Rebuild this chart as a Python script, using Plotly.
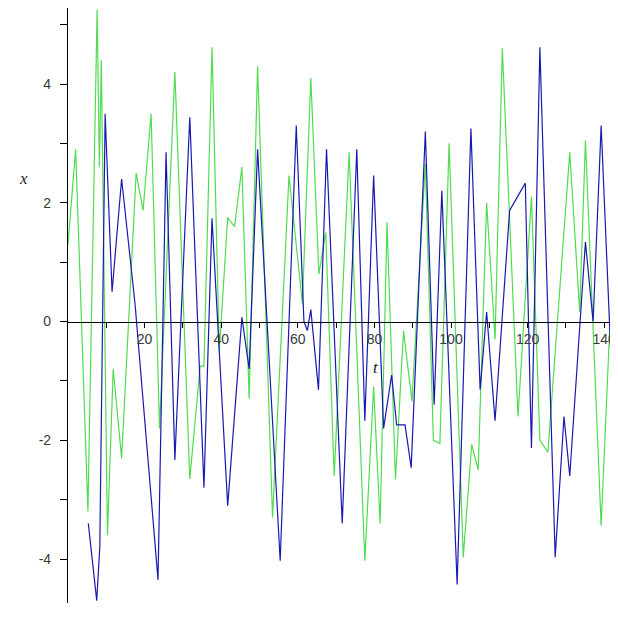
import plotly.graph_objects as go

# ---- data ----
green_t = [0, 2, 5.2, 7.6, 8.2, 8.7, 10.3, 11.8, 14, 17.8, 19.6, 21.7, 23.9, 27.9,
           31.8, 34.5, 35.5, 37.6, 39.5, 41.7, 43.5, 45.4, 47.3, 49.5, 53.4, 57.7,
           61.2, 63.4, 65.5, 67.3, 69.5, 73.4, 77.5, 79.8, 81.5, 83.3, 85.5, 87.6,
           89.8, 93.3, 95.4, 97.1, 99.5, 103.2, 105.4, 107.1, 109.3, 111.5, 113.4,
           117.5, 121, 123.2, 125.3, 131, 133.6, 135.1, 139.2, 143.6]
green_x = [1.3, 2.9, -3.2, 5.25, 2.6, 4.4, -3.6, -0.8, -2.3, 2.5, 1.87, 3.5, -1.8, 4.2,
           -2.65, -0.75, -0.75, 4.62, -0.5, 1.75, 1.6, 2.6, -1.3, 4.3, -3.3, 2.46,
           0.3, 4.1, 0.8, 1.5, -2.6, 2.85, -4.03, -1.1, -3.4, 1.67, -2.66, -0.16,
           -1.34, 2.66, -2.0, -2.05, 3.0, -3.97, -2.07, -2.5, 2.0, -0.3, 4.6,
           -1.6, 2.1, -2.0, -2.2, 2.85, 0.16, 3.05, -3.44, 3.1]

blue_t = [5.3, 7.5, 8.3, 9.7, 11.5, 14, 17.5, 23.5, 25.6, 27.9, 31.8, 35.5, 37.6,
          41.7, 45.4, 47.3, 49.5, 55.4, 59.6, 61.6, 62.5, 63.4, 65.4, 67.5, 71.6,
          75.4, 77.5, 79.8, 82.4, 84.5, 85.8, 88, 89.6, 93.3, 95.6, 97.6, 98.6,
          101.6, 105.2, 107.6, 109.3, 111.5, 115.3, 119.4, 121, 123.2, 127.2,
          129.5, 131, 135.1, 137.1, 139.2, 143.6]
blue_x = [-3.4, -4.7, -3.8, 3.5, 0.5, 2.4, 0.3, -4.35, 2.85, -2.33, 3.44, -2.8, 1.74,
          -3.1, 0.07, -0.8, 2.9, -4.03, 3.3, 0.0, -0.15, 0.2, -1.15, 2.9, -3.4,
          2.9, -1.67, 2.46, -1.8, -0.9, -1.74, -1.74, -2.46, 3.2, -1.4, 2.2, 0.56,
          -4.43, 3.25, -1.15, 0.16, -1.67, 1.87, 2.33, -2.13, 4.62, -3.97,
          -1.6, -2.6, 1.34, 0.0, 3.3, -3.4]

x_tick_vals = [10, 20, 30, 40, 50, 60, 70, 80, 90, 100, 110, 120, 130, 140]
x_tick_text = ["", "20", "", "40", "", "60", "", "80", "", "100", "", "120", "", "140"]
y_tick_vals = [-4, -3, -2, -1, 0, 1, 2, 3, 4, 5]
y_tick_text = ["-4", "", "-2", "", "0", "", "2", "", "4", ""]

# ---- figure ----
x_range = [0, 143.6]
y_range = [-4.74, 5.28]

fig = go.Figure()
fig.add_trace(go.Scatter(x=green_t, y=green_x, mode="lines",
                         line=dict(color="rgb(80,220,80)", width=1.2),
                         showlegend=False, hoverinfo="skip"))
fig.add_trace(go.Scatter(x=blue_t, y=blue_x, mode="lines",
                         line=dict(color="rgb(25,25,175)", width=1.2),
                         showlegend=False, hoverinfo="skip"))

tick_font = dict(family="Liberation Sans, Arial, sans-serif", size=14, color="#3a3a3a")

# page body has an 8px default margin, so the figure is 8px smaller
fig.update_layout(
    width=610, height=625,
    margin=dict(l=60, r=0, t=0, b=30),
    paper_bgcolor="white", plot_bgcolor="white",
    showlegend=False,
    xaxis=dict(range=x_range, showgrid=False, zeroline=False, automargin=False,
               showline=True, linecolor="black", linewidth=1.2,
               anchor="free",
               position=(0 - y_range[0]) / (y_range[1] - y_range[0]),
               ticks="outside", ticklen=5, tickcolor="black", tickwidth=1,
               tickvals=x_tick_vals, ticktext=x_tick_text,
               tickfont=tick_font),
    yaxis=dict(range=y_range, showgrid=False, zeroline=False, automargin=False,
               showline=True, linecolor="black", linewidth=1.2,
               ticks="outside", ticklen=7, tickcolor="black", tickwidth=1,
               tickvals=y_tick_vals, ticktext=y_tick_text,
               tickfont=tick_font, ticklabelstandoff=6),
)

label_font = dict(family="Liberation Serif, Times New Roman, serif", size=17, color="#222")
fig.add_annotation(text="<i>x</i>", xref="paper", yref="paper", x=-0.0927, y=0.733,
                   showarrow=False, font=label_font)
fig.add_annotation(text="<i>t</i>", xref="paper", yref="paper", x=0.56, y=0.395,
                   showarrow=False, font=label_font)

fig.write_html("out.html")
